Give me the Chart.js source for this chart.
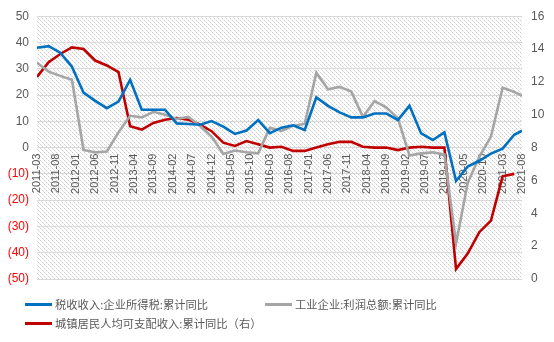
<!DOCTYPE html>
<html lang="zh">
<head>
<meta charset="UTF-8">
<title>税收收入与企业利润</title>
<script src="https://cdn.jsdelivr.net/npm/chart.js"></script>
<style>
  body { margin: 0; background: #fff; font-family: "Liberation Sans", "Noto Sans CJK SC", sans-serif; }
  #wrap { position: relative; width: 554px; height: 342px; }
  .leg { position: absolute; display: flex; align-items: center; font-size: 11.3px; color: #595959;
         font-family: "Noto Sans CJK SC", sans-serif; white-space: nowrap; }
  .leg span.ln { display: inline-block; width: 27px; height: 3px; margin-right: 3px; }
</style>
</head>
<body>
<div id="wrap">
  <canvas id="c" width="554" height="342"></canvas>
</div>
<script>
// quarterly observations (cumulative YoY, %), plus the latest month
const periods = [
  '2011-03','2011-06','2011-09','2011-12','2012-03','2012-06','2012-09','2012-12',
  '2013-03','2013-06','2013-09','2013-12','2014-03','2014-06','2014-09','2014-12',
  '2015-03','2015-06','2015-09','2015-12','2016-03','2016-06','2016-09','2016-12',
  '2017-03','2017-06','2017-09','2017-12','2018-03','2018-06','2018-09','2018-12',
  '2019-03','2019-06','2019-09','2019-12','2020-03','2020-06','2020-09','2020-12',
  '2021-03','2021-06','2021-08'
];
const taxYoY = [
  38.0, 38.6, 36.1, 30.8, 20.9, 17.8, 15.0, 17.5,
  25.8, 14.4, 14.4, 14.4, 9.2, 9.0, 8.7, 10.1,
  8.0, 5.2, 6.5, 10.5, 5.5, 7.6, 8.5, 6.7,
  19.1, 15.9, 13.4, 11.5, 11.5, 13.0, 13.0, 10.5,
  15.9, 5.4, 2.9, 5.8, -12.7, -7.2, -5.0, -2.3,
  -0.4, 4.9, 6.4
];
const profitYoY = [
  32.3, 28.9, 27.3, 25.8, -0.9, -1.8, -1.5, 5.8,
  12.1, 11.5, 13.6, 12.5, 10.9, 11.7, 8.3, 4.2,
  -2.4, -1.1, -1.8, -2.2, 7.5, 6.4, 8.3, 9.0,
  28.5, 22.2, 23.1, 21.3, 11.7, 17.7, 15.3, 11.2,
  -3.0, -2.2, -1.8, -2.7, -36.5, -13.5, -3.5, 4.2,
  22.8, 21.2, 19.7
];
const incomeYoY = [
  12.3, 13.2, 13.7, 14.1, 14.0, 13.3, 13.0, 12.6,
  9.3, 9.1, 9.5, 9.7, 9.8, 9.7, 9.4, 9.0,
  8.3, 8.1, 8.4, 8.2, 8.0, 8.05, 7.8, 7.8,
  8.0, 8.2, 8.35, 8.35, 8.05, 8.0, 8.0, 7.85,
  8.0, 8.05, 8.0, 8.0, 0.6, 1.55, 2.85, 3.55,
  6.25, 6.4, null
];
const seriesNames = ['税收收入:企业所得税:累计同比', '工业企业:利润总额:累计同比', '城镇居民人均可支配收入:累计同比（右）'];
const seriesColors = ['#0070C0', '#A5A5A5', '#C00000'];
const firstMonth = '2011-03';
const lastMonth = '2021-08';
const tickStepMonths = 5;

function monthIndex(p) {
  const [y, m] = p.split('-').map(Number);
  const [y0, m0] = firstMonth.split('-').map(Number);
  return (y - y0) * 12 + (m - m0);
}
function monthLabel(idx) {
  const [y0, m0] = firstMonth.split('-').map(Number);
  const t = y0 * 12 + (m0 - 1) + idx;
  const y = Math.floor(t / 12), m = t % 12 + 1;
  return y + '-' + (m < 10 ? '0' : '') + m;
}
function points(vals) {
  return periods.map((p, i) => ({ x: monthIndex(p), y: vals[i] }));
}

// diagonal hatch behind the plot
const tile = document.createElement('canvas');
tile.width = 4; tile.height = 4;
const tctx = tile.getContext('2d');
tctx.fillStyle = '#cccccc';
tctx.fillRect(0, 0, 1, 1);
tctx.fillRect(2, 2, 1, 1);
tctx.fillStyle = '#e4e4e4';
tctx.fillRect(1, 1, 1, 1);
tctx.fillRect(3, 3, 1, 1);

const hatch = {
  id: 'hatch',
  beforeDraw(chart) {
    const { ctx, chartArea: a } = chart;
    ctx.save();
    ctx.fillStyle = ctx.createPattern(tile, 'repeat');
    ctx.fillRect(a.left, a.top, a.right - a.left, a.bottom - a.top);
    ctx.restore();
  }
};

const font = { family: '"Liberation Sans", "Noto Sans CJK SC", sans-serif', size: 12 };

new Chart(document.getElementById('c'), {
  type: 'line',
  data: {
    datasets: [
      { label: seriesNames[0], data: points(taxYoY), borderColor: seriesColors[0], yAxisID: 'y' },
      { label: seriesNames[1], data: points(profitYoY), borderColor: seriesColors[1], yAxisID: 'y' },
      { label: seriesNames[2], data: points(incomeYoY), borderColor: seriesColors[2], yAxisID: 'y1' }
    ]
  },
  options: {
    responsive: false,
    animation: false,
    layout: { padding: { top: 15, bottom: 63, left: 0, right: 0 } },
    elements: {
      line: { borderWidth: 2.6, tension: 0, borderJoinStyle: 'miter' },
      point: { radius: 0 }
    },
    plugins: { legend: { display: false }, tooltip: { enabled: false } },
    scales: {
      x: {
        type: 'linear',
        position: { y: 0 },
        min: 0,
        max: monthIndex(lastMonth),
        grid: { display: false, drawTicks: false },
        border: { display: false },
        ticks: {
          stepSize: tickStepMonths,
          autoSkip: false,
          minRotation: 90,
          maxRotation: 90,
          padding: 6,
          color: '#595959',
          font: { family: font.family, size: 11 },
          callback: v => monthLabel(v)
        }
      },
      y: {
        position: 'left',
        min: -50, max: 50,
        afterFit: s => { s.width = 37; },
        grid: { color: '#d9d9d9', drawTicks: false },
        border: { display: false },
        ticks: {
          stepSize: 10,
          padding: 8,
          font: font,
          color: c => c.tick.value < 0 ? '#FF0000' : '#595959',
          callback: v => v < 0 ? '(' + (-v) + ')' : v
        }
      },
      y1: {
        position: 'right',
        min: 0, max: 16,
        afterFit: s => { s.width = 32; },
        grid: { display: false, drawTicks: false },
        border: { display: false },
        ticks: { stepSize: 2, padding: 9, font: font, color: '#595959' }
      }
    }
  },
  plugins: [hatch]
});

// legend in two rows
const wrap = document.getElementById('wrap');
const legPos = [[25, 304], [265, 304], [25, 323]];
seriesNames.forEach((name, i) => {
  const d = document.createElement('div');
  d.className = 'leg';
  d.style.left = legPos[i][0] + 'px';
  d.style.top = (legPos[i][1] - 8) + 'px';
  d.style.height = '16px';
  d.innerHTML = '<span class="ln" style="background:' + seriesColors[i] + '"></span>' + name;
  wrap.appendChild(d);
});
</script>
</body>
</html>
